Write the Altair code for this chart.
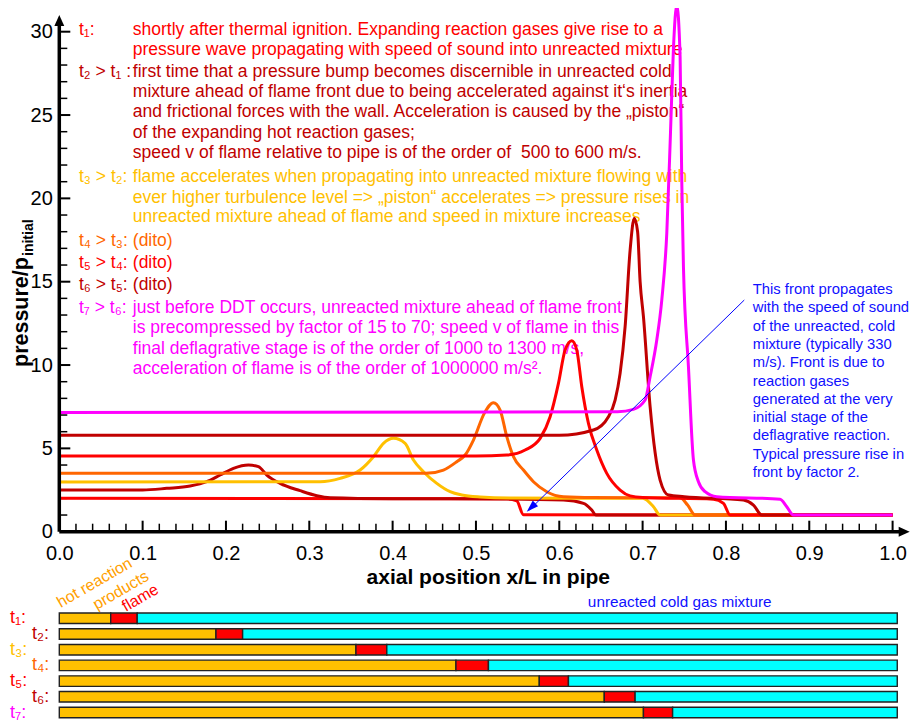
import altair as alt
import pandas as pd

# ---------------- data ----------------
t1_x = [0.0, 0.537, 0.549, 0.557, 1.0]
t1_y = [2.0, 1.97, 1.85, 1.02, 1.0]

t2_x = [0.0, 0.10, 0.129, 0.157, 0.177, 0.193, 0.209, 0.227, 0.239, 0.249, 0.265, 0.289,
        0.309, 0.325, 0.40, 0.537, 0.605, 0.629, 0.639, 0.644, 1.0]
t2_y = [2.5, 2.5, 2.6, 2.74, 3.0, 3.4, 3.8, 4.0, 3.9, 3.4, 2.9, 2.46,
        2.16, 2.04, 1.98, 1.96, 1.9, 1.7, 1.3, 1.0, 1.0]

t3_x = [0.0, 0.313, 0.337, 0.361, 0.377, 0.389, 0.401, 0.415, 0.425, 0.437, 0.453, 0.469,
        0.483, 0.505, 0.54, 0.70, 0.713, 0.721, 1.0]
t3_y = [2.98, 3.0, 3.2, 3.7, 4.5, 5.3, 5.6, 5.3, 4.3, 3.6, 2.9, 2.4,
        2.2, 2.08, 2.02, 2.0, 1.5, 1.0, 1.0]

t4_x = [0.0, 0.44, 0.461, 0.477, 0.487, 0.497, 0.51, 0.521, 0.529, 0.537, 0.545, 0.557,
        0.569, 0.585, 0.605, 0.64, 0.745, 0.754, 0.763, 1.0]
t4_y = [3.5, 3.5, 3.7, 4.2, 4.6, 5.5, 7.1, 7.74, 7.3, 5.7, 4.5, 3.7,
        3.0, 2.4, 2.1, 2.05, 2.03, 1.6, 1.0, 1.0]

t5_x = [0.0, 0.50, 0.537, 0.559, 0.577, 0.589, 0.599, 0.607, 0.615, 0.621, 0.627, 0.635,
        0.645, 0.657, 0.673, 0.685, 0.70, 0.785, 0.797, 0.805, 1.0]
t5_y = [4.54, 4.54, 4.6, 4.9, 5.6, 6.9, 8.9, 10.9, 11.46, 10.9, 8.7, 6.5,
        4.9, 3.5, 2.5, 2.15, 2.05, 1.95, 1.7, 1.0, 1.0]

t6_x = [0.0, 0.60, 0.641, 0.659, 0.667, 0.673, 0.679, 0.685, 0.690, 0.694, 0.697, 0.701,
        0.709, 0.721, 0.731, 0.75, 0.821, 0.833, 0.843, 1.0]
t6_y = [5.78, 5.78, 6.1, 6.9, 7.9, 9.5, 12.3, 16.9, 18.8, 18.0, 15.0, 12.9,
        7.5, 3.1, 2.2, 2.1, 1.9, 1.6, 1.0, 1.0]

t7_x = [0.0, 0.67, 0.689, 0.703, 0.709, 0.717, 0.723, 0.729, 0.7335, 0.737, 0.741, 0.745,
        0.747, 0.749, 0.755, 0.761, 0.767, 0.775, 0.789, 0.865, 0.873, 0.881, 1.0]
t7_y = [7.15, 7.2, 7.34, 7.9, 9.3, 11.5, 13.9, 17.9, 24.0, 29.0, 31.6, 28.5,
        21.0, 15.9, 9.9, 4.3, 3.0, 2.4, 2.1, 1.95, 1.5, 1.0, 1.0]

series_x = [t1_x, t2_x, t3_x, t4_x, t5_x, t6_x, t7_x]
series_y = [t1_y, t2_y, t3_y, t4_y, t5_y, t6_y, t7_y]
series_colors = ["#FF0000", "#C00000", "#FFC000", "#FF6600", "#FF0000", "#C00000", "#FF00FF"]

x_major = [0.0, 0.1, 0.2, 0.3, 0.4, 0.5, 0.6, 0.7, 0.8, 0.9, 1.0]
y_major = [0, 5, 10, 15, 20, 25, 30]
x_minor = [round(i * 0.02, 2) for i in range(51) if i % 5]
y_minor = [i for i in range(31) if i % 5]

pipe_rows = ["t₁:", "t₂:", "t₃:", "t₄:", "t₅:", "t₆:", "t₇:"]
hot_end = [0.0617, 0.188, 0.356, 0.476, 0.576, 0.654, 0.701]
flame_end = [0.0935, 0.220, 0.393, 0.515, 0.611, 0.691, 0.736]
pipe_end = 1.0056

# arrow of the blue note: from (x, p) to (x2, p2)
note_arrow = {"x": [0.822], "p": [13.9], "x2": [0.5635], "p2": [1.28]}
note_tip = {"x": [0.561], "p": [1.2]}

text_rows = [
    ("t₁:", "#FF0000", "shortly after thermal ignition. Expanding reaction gases give rise to a", "#FF0000", -1.7),
    ("", "#FF0000", "pressure wave propagating with speed of sound into unreacted mixture", "#FF0000", 18.3),
    ("t₂ > t₁ :", "#C00000", "first time that a pressure bump becomes discernible in unreacted cold", "#C00000", 40.3),
    ("", "#C00000", "mixture ahead of flame front due to being accelerated against it‘s inertia", "#C00000", 60.3),
    ("", "#C00000", "and frictional forces with the wall. Acceleration is caused by the „piston“", "#C00000", 80.3),
    ("", "#C00000", "of the expanding hot reaction gases;", "#C00000", 101.3),
    ("", "#C00000", "speed v of flame relative to pipe is of the order of\u00a0 500 to 600 m/s.", "#C00000", 121.3),
    ("t₃ > t₂:", "#FFC000", "flame accelerates when propagating into unreacted mixture flowing with", "#FFC000", 145.3),
    ("", "#FFC000", "ever higher turbulence level => „piston“ accelerates => pressure rises in", "#FFC000", 166.3),
    ("", "#FFC000", "unreacted mixture ahead of flame and speed in mixture increases", "#FFC000", 185.3),
    ("t₄ > t₃:", "#FF6600", "(dito)", "#FF6600", 209.3),
    ("t₅ > t₄:", "#FF0000", "(dito)", "#FF0000", 231.3),
    ("t₆ > t₅:", "#C00000", "(dito)", "#C00000", 253.3),
    ("t₇ > t₆:", "#FF00FF", "just before DDT occurs, unreacted mixture ahead of flame front", "#FF00FF", 276.3),
    ("", "#FF00FF", "is precompressed by factor of 15 to 70; speed v of flame in this", "#FF00FF", 296.3),
    ("", "#FF00FF", "final deflagrative stage is of the order of 1000 to 1300 m/s,", "#FF00FF", 317.3),
    ("", "#FF00FF", "acceleration of flame is of the order of 1000000 m/s².", "#FF00FF", 337.3),
]

note_lines = ["This front propagates", "with the speed of sound", "of the unreacted, cold",
              "mixture (typically 330", "m/s). Front is due to", "reaction gases",
              "generated at the very", "initial stage of the", "deflagrative reaction.",
              "Typical pressure rise in", "front by factor 2."]

# ---------------- chart ----------------
FONT = "Liberation Sans, Arial, Helvetica, sans-serif"
W, H = 833.3, 500
XS = alt.Scale(domain=[0, 1], nice=False, zero=False)
YS = alt.Scale(domain=[0, 30], nice=False, zero=False)
AX = alt.Axis(values=x_major, format=".1f", labelFontSize=20, labelFont=FONT, labelColor="black",
              labelPadding=12, labelFlush=False, labelOverlap=False, domain=False, ticks=False,
              grid=False, title=None)
AY = alt.Axis(values=y_major, format="d", labelFontSize=20, labelFont=FONT, labelColor="black",
              labelPadding=7, labelFlush=False, labelOverlap=False, domain=False, ticks=False,
              grid=False, title=None)


def txt(s, x, y, color, size, weight="normal", angle=0, align="left", baseline="middle"):
    return alt.Chart(pd.DataFrame({"t": [s]})).mark_text(
        font=FONT, fontSize=size, fontWeight=weight, color=color, angle=angle,
        align=align, baseline=baseline
    ).encode(x=alt.value(x), y=alt.value(y), text="t:N")


layers = []

# annotation text (behind curves)
for lab, lc, body, bc, y in text_rows:
    if lab:
        layers.append(txt(lab, 19.7, y, lc, 17.5))
    layers.append(txt(body, 73.5, y, bc, 17.5))
for i, s in enumerate(note_lines):
    layers.append(txt(s, 693.5, 258.3 + 18.3 * i, "#1010FF", 14.8))

# titles
layers.append(txt("axial position x/L in pipe", 429, 546.3, "black", 21, weight="bold", align="center"))
layers.append(txt("pressure/p", -31.3, 335.3, "black", 21.5, weight="bold", angle=270,
                  baseline="alphabetic"))
layers.append(txt("initial", -26.3, 224.3, "black", 14, weight="bold", angle=270,
                  baseline="alphabetic"))


# ticks
def xticks(vals, length, sw):
    return alt.Chart(pd.DataFrame({"v": vals})).mark_rule(color="black", strokeWidth=sw).encode(
        x=alt.X("v:Q", scale=XS, axis=AX), y=alt.value(H - 1), y2=alt.value(H - length))


def yticks(vals, length, sw):
    return alt.Chart(pd.DataFrame({"v": vals})).mark_rule(color="black", strokeWidth=sw).encode(
        y=alt.Y("v:Q", scale=YS, axis=AY), x=alt.value(1), x2=alt.value(length))


layers += [xticks(x_minor, 8, 1.5), xticks(x_major, 11, 2),
           yticks(y_minor, 8, 1.5), yticks(y_major, 11, 2)]

# curves
for xs_, ys_, col in zip(series_x, series_y, series_colors):
    df = pd.DataFrame({"x": xs_, "p": ys_, "i": list(range(len(xs_)))})
    layers.append(alt.Chart(df).mark_line(color=col, strokeWidth=3, interpolate="monotone",
                                          clip=False).encode(
        x=alt.X("x:Q", scale=XS, axis=AX), y=alt.Y("p:Q", scale=YS, axis=AY), order="i:Q"))

# blue arrow
layers.append(alt.Chart(pd.DataFrame(note_arrow)).mark_rule(color="#0000FF", strokeWidth=1).encode(
    x=alt.X("x:Q", scale=XS, axis=AX), y=alt.Y("p:Q", scale=YS, axis=AY), x2="x2:Q", y2="p2:Q"))
layers.append(alt.Chart(pd.DataFrame(note_tip)).mark_point(
    shape="M0,0 L-0.32,1 L0.32,1 Z", filled=True, color="#0000FF", opacity=1, size=576, angle=226
).encode(x=alt.X("x:Q", scale=XS, axis=AX), y=alt.Y("p:Q", scale=YS, axis=AY)))

# axis lines with arrowheads
layers.append(alt.Chart(pd.DataFrame({"a": [0]})).mark_rule(color="black", strokeWidth=3.5).encode(
    x=alt.X(datum=0, type="quantitative", scale=XS, axis=AX),
    x2=alt.X2(datum=1.009), y=alt.value(H)))
layers.append(alt.Chart(pd.DataFrame({"a": [0]})).mark_rule(color="black", strokeWidth=3.5).encode(
    y=alt.Y(datum=0, type="quantitative", scale=YS, axis=AY),
    y2=alt.Y2(datum=30.4), x=alt.value(0)))
layers.append(alt.Chart(pd.DataFrame({"a": [0]})).mark_point(
    shape="M0,0 L-0.45,1 L0.45,1 Z", filled=True, color="black", opacity=1, size=484, angle=90
).encode(x=alt.X(datum=1.0205, type="quantitative", scale=XS, axis=AX), y=alt.value(H)))
layers.append(alt.Chart(pd.DataFrame({"a": [0]})).mark_point(
    shape="M0,0 L-0.45,1 L0.45,1 Z", filled=True, color="black", opacity=1, size=484, angle=0
).encode(y=alt.Y(datum=31.0, type="quantitative", scale=YS, axis=AY), x=alt.value(0)))

# pipe diagram labels (pixel-placed)
layers.append(txt("unreacted cold gas mixture", 620.4, 570.6, "#1010FF", 15.3, align="center"))
layers.append(txt("hot reaction", 1.5, 576.3, "#FFA000", 16, angle=330, baseline="alphabetic"))
layers.append(txt("products", 37.5, 578.3, "#FFA000", 16, angle=330, baseline="alphabetic"))
layers.append(txt("flame", 66.5, 580.3, "#FF0000", 16, angle=330, baseline="alphabetic"))

pressure = alt.layer(*layers)

# pipe diagram with its own band scale
pipe_df = pd.DataFrame({"row": pipe_rows, "idx": list(range(7)), "z": [0.0] * 7,
                        "hot": hot_end, "fl": flame_end, "end": [pipe_end] * 7})
PY = alt.Y("row:O", sort=pipe_rows, axis=None,
           scale=alt.Scale(range=[578.75, 688.65], paddingInner=0.331, paddingOuter=0.1655))
bar_kw = dict(stroke="#222222", strokeWidth=1.4)
p_hot = alt.Chart(pipe_df).mark_bar(color="#FFC000", **bar_kw).encode(
    x=alt.X("z:Q", scale=XS, axis=AX), x2="hot:Q", y=PY)
p_fl = alt.Chart(pipe_df).mark_bar(color="#FF0000", **bar_kw).encode(
    x=alt.X("hot:Q", scale=XS, axis=AX), x2="fl:Q", y=PY)
p_cold = alt.Chart(pipe_df).mark_bar(color="#00FFFF", clip=False, **bar_kw).encode(
    x=alt.X("fl:Q", scale=XS, axis=AX), x2="end:Q", y=PY)
lab_color = alt.Color("row:N", scale=alt.Scale(domain=pipe_rows, range=series_colors), legend=None)
p_lab_even = alt.Chart(pipe_df).transform_filter("datum.idx % 2 == 0").mark_text(
    font=FONT, fontSize=18, align="left", baseline="middle").encode(
    x=alt.value(-49.3), y=PY, text="row:N", color=lab_color)
p_lab_odd = alt.Chart(pipe_df).transform_filter("datum.idx % 2 == 1").mark_text(
    font=FONT, fontSize=18, align="left", baseline="middle").encode(
    x=alt.value(-27.3), y=PY, text="row:N", color=lab_color)
pipe = alt.layer(p_hot, p_fl, p_cold, p_lab_even, p_lab_odd)

chart = alt.layer(pressure, pipe).resolve_scale(y="independent").properties(
    width=W, height=H,
    autosize=alt.AutoSizeParams(type="none"),
    padding={"left": 51.3, "top": 23.7, "right": 17.4, "bottom": 190.3},
    background="white",
).configure_view(stroke=None)

chart.save("out.html", embed_options={"renderer": "svg", "actions": False})
